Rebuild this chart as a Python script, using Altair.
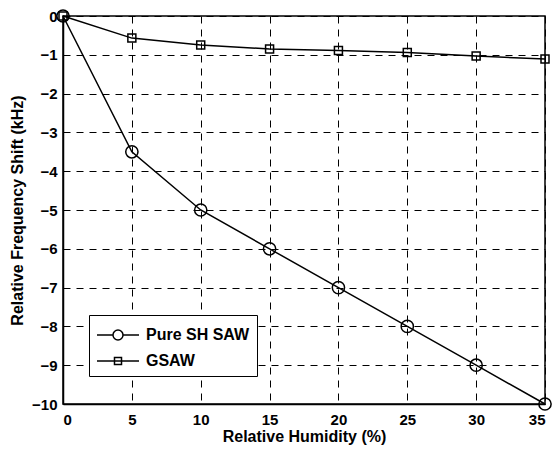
import altair as alt
import pandas as pd

humidity = [0, 5, 10, 15, 20, 25, 30, 35]
pure_sh_saw = [0, -3.5, -5, -6, -7, -8, -9, -10]
gsaw = [0, -0.57, -0.75, -0.85, -0.89, -0.94, -1.03, -1.11]
series_names = ["Pure SH SAW", "GSAW"]
x_ticks = [0, 5, 10, 15, 20, 25, 30, 35]
y_ticks = [-10, -9, -8, -7, -6, -5, -4, -3, -2, -1, 0]

df = pd.DataFrame({
    "h": humidity + humidity,
    "shift": pure_sh_saw + gsaw,
    "series": [series_names[0]] * len(humidity) + [series_names[1]] * len(humidity),
})

FONT = "Liberation Sans"

x = alt.X("h:Q", scale=alt.Scale(domain=[0, 35], nice=False),
          axis=alt.Axis(values=x_ticks, title="Relative Humidity (%)", labelPadding=8, titlePadding=1))
y = alt.Y("shift:Q", scale=alt.Scale(domain=[-10, 0], nice=False),
          axis=alt.Axis(values=y_ticks, format="d", title="Relative Frequency Shift (kHz)",
                        labelPadding=6, titlePadding=6))

# legend symbols: line segment with marker (units of 12 px, column of 24 px)
circle_path = ("M-1,0H0.333M1.167,0H2.5M1.167,0A0.417,0.417,0,1,1,0.333,0"
               "A0.417,0.417,0,1,1,1.167,0")
square_path = "M-1,0H2.5M0.458,-0.292H1.042V0.292H0.458Z"

base = alt.Chart(df)

lines = base.mark_line(color="black", strokeWidth=1.5).encode(x=x, y=y, detail="series:N")

circles = base.transform_filter(alt.datum.series == series_names[0]).mark_point(
    shape="circle", size=150, filled=False, color="black", strokeWidth=1.5, opacity=1
).encode(x=x, y=y)

squares = base.transform_filter(alt.datum.series == series_names[1]).mark_point(
    shape="square", size=64, filled=False, color="black", strokeWidth=1.5, opacity=1
).encode(x=x, y=y)

legend_layer = base.transform_filter("false").mark_point(
    filled=False, color="black", strokeWidth=1.5, size=576, opacity=1
).encode(
    x=x, y=y,
    shape=alt.Shape("series:N",
                    scale=alt.Scale(domain=series_names, range=[circle_path, square_path]),
                    legend=alt.Legend(
                        title=None, orient="none", legendX=26, legendY=299,
                        labelFont=FONT, labelFontWeight="bold", labelFontSize=16,
                        labelColor="black", strokeColor="black", fillColor="white",
                        padding=7, symbolSize=576, symbolStrokeWidth=1.5,
                        symbolStrokeColor="black", symbolFillColor="transparent",
                        labelOffset=24, rowPadding=4,
                    )),
)

chart = alt.layer(lines, circles, squares, legend_layer).properties(
    width=482, height=388,
    autosize=alt.AutoSizeParams(type="none"),
    padding={"left": 63, "top": 16, "right": 8, "bottom": 45},
    background="white",
).configure_view(
    stroke="black", strokeWidth=1.5
).configure_axis(
    labelFont=FONT, labelFontWeight="bold", labelFontSize=15, labelColor="black",
    titleFont=FONT, titleFontWeight="bold", titleFontSize=16, titleColor="black",
    grid=True, gridColor="black", gridDash=[7, 6], gridOpacity=1, gridWidth=1,
    domainColor="black", domainWidth=1.5, ticks=False,
)

chart.save("out.html", embed_options={"renderer": "svg", "actions": False})
